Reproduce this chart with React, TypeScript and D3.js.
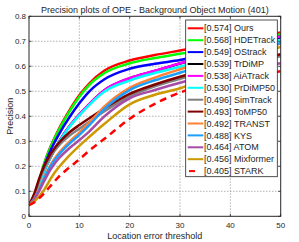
import React from 'react';
import * as d3 from 'd3';

// location error thresholds (px) where the curves are sampled
const thresholds = [0, 1, 2, 3, 4, 5, 6, 8, 10, 12, 15, 20, 25, 30, 40, 50];

const trackerNames = ['Ours', 'HDETrack', 'OStrack', 'TrDiMP', 'AiATrack', 'PrDiMP50', 'SimTrack', 'ToMP50', 'TRANST', 'KYS', 'ATOM', 'Mixformer', 'STARK'];
const trackerScores = [0.574, 0.568, 0.549, 0.539, 0.538, 0.530, 0.496, 0.493, 0.492, 0.488, 0.464, 0.456, 0.405];

const ours = [0.045, 0.08, 0.14, 0.21, 0.265, 0.31, 0.352, 0.423, 0.484, 0.532, 0.583, 0.623, 0.645, 0.663, 0.70, 0.735];
const hdetrack = [0.045, 0.08, 0.14, 0.21, 0.263, 0.308, 0.348, 0.418, 0.478, 0.526, 0.573, 0.612, 0.633, 0.65, 0.69, 0.728];
const ostrack = [0.045, 0.078, 0.135, 0.2, 0.25, 0.293, 0.33, 0.395, 0.452, 0.5, 0.548, 0.59, 0.61, 0.625, 0.67, 0.715];
const trdimp = [0.045, 0.075, 0.125, 0.18, 0.225, 0.265, 0.3, 0.359, 0.407, 0.449, 0.504, 0.552, 0.581, 0.611, 0.664, 0.719];
const aiatrack = [0.045, 0.075, 0.125, 0.18, 0.225, 0.265, 0.3, 0.36, 0.408, 0.45, 0.505, 0.553, 0.582, 0.612, 0.665, 0.72];
const prdimp50 = [0.045, 0.075, 0.125, 0.18, 0.224, 0.264, 0.298, 0.357, 0.404, 0.446, 0.499, 0.543, 0.573, 0.598, 0.652, 0.705];
const simtrack = [0.045, 0.082, 0.14, 0.19, 0.228, 0.26, 0.285, 0.322, 0.35, 0.378, 0.42, 0.48, 0.52, 0.55, 0.6, 0.64];
const tomp50 = [0.045, 0.088, 0.15, 0.2, 0.24, 0.27, 0.295, 0.335, 0.365, 0.392, 0.432, 0.49, 0.527, 0.558, 0.605, 0.648];
const transt = [0.045, 0.07, 0.11, 0.155, 0.195, 0.228, 0.255, 0.298, 0.335, 0.375, 0.44, 0.514, 0.555, 0.588, 0.645, 0.69];
const kys = [0.045, 0.068, 0.105, 0.15, 0.19, 0.222, 0.248, 0.29, 0.326, 0.365, 0.43, 0.505, 0.544, 0.574, 0.64, 0.693];
const atom = [0.045, 0.066, 0.1, 0.14, 0.178, 0.208, 0.233, 0.272, 0.305, 0.34, 0.4, 0.472, 0.505, 0.534, 0.578, 0.612];
const mixformer = [0.045, 0.058, 0.08, 0.105, 0.14, 0.172, 0.198, 0.243, 0.282, 0.318, 0.37, 0.448, 0.486, 0.512, 0.6, 0.678];
const stark = [0.045, 0.055, 0.072, 0.092, 0.115, 0.138, 0.16, 0.195, 0.228, 0.263, 0.31, 0.39, 0.45, 0.495, 0.545, 0.58];

const series = [ours, hdetrack, ostrack, trdimp, aiatrack, prdimp50, simtrack, tomp50, transt, kys, atom, mixformer, stark];

const xTicks = [0, 10, 20, 30, 40, 50];
const yTicks = [0, 0.1, 0.2, 0.3, 0.4, 0.5, 0.6, 0.7, 0.8];

const colors = ['#ff0000', '#00ff00', '#0000ff', '#000000', '#ff00ff', '#00ffff', '#808080', '#800000', '#ff8033', '#1a9fff', '#a64ca6', '#cc9900', '#ff0000'];
const dashed = [false, false, false, false, false, false, false, false, false, false, false, false, true];

const WIDTH = 299;
const HEIGHT = 242;
const margin = { top: 16.3, right: 18.3, bottom: 25.7, left: 29 };
const FONT = '"Liberation Sans", Arial, Helvetica, sans-serif';
const TEXT = '#262626';

const App: React.FC = () => {
  const innerRight = WIDTH - margin.right;
  const innerBottom = HEIGHT - margin.bottom;

  const x = d3.scaleLinear().domain([0, 50]).range([margin.left, innerRight]);
  const y = d3.scaleLinear().domain([0, 0.8]).range([innerBottom, margin.top]);

  const line = d3.line<number>()
    .x((_, i) => x(thresholds[i]))
    .y(d => y(d))
    .curve(d3.curveMonotoneX);

  // legend box
  const legend = { left: 185.7, top: 20, right: 277.3, bottom: 176.7, firstRow: 28.3, rowGap: 11.9 };

  return (
    <svg
      width={WIDTH}
      height={HEIGHT}
      style={{ position: 'fixed', left: 0, top: 0, background: '#fff' }}
      fontFamily={FONT}
    >
      <defs>
        <clipPath id="plot-clip">
          <rect x={margin.left} y={margin.top} width={innerRight - margin.left} height={innerBottom - margin.top} />
        </clipPath>
      </defs>

      {/* Title */}
      <text x={(margin.left + innerRight) / 2} y={13} textAnchor="middle" fontSize={9} fill={TEXT}>
        Precision plots of OPE - Background Object Motion (401)
      </text>

      {/* Grid */}
      <g stroke="#a0a0a0" strokeWidth={0.8} strokeDasharray="1.5,1.5">
        {xTicks.slice(1, -1).map(t => (
          <line key={'gx' + t} x1={x(t)} x2={x(t)} y1={margin.top} y2={innerBottom} />
        ))}
        {yTicks.slice(1, -1).map(t => (
          <line key={'gy' + t} x1={margin.left} x2={innerRight} y1={y(t)} y2={y(t)} />
        ))}
      </g>

      {/* Curves */}
      <g clipPath="url(#plot-clip)" fill="none">
        {series.map((s, i) => (
          <path
            key={trackerNames[i]}
            d={line(s) || ''}
            stroke={colors[i]}
            strokeWidth={2.5}
            strokeDasharray={dashed[i] ? '7,5' : undefined}
          />
        ))}
      </g>

      {/* Axes box */}
      <rect
        x={margin.left}
        y={margin.top}
        width={innerRight - margin.left}
        height={innerBottom - margin.top}
        fill="none"
        stroke={TEXT}
        strokeWidth={1}
      />

      {/* Tick marks (inside) */}
      <g stroke={TEXT} strokeWidth={0.8}>
        {xTicks.map(t => (
          <React.Fragment key={'tx' + t}>
            <line x1={x(t)} x2={x(t)} y1={innerBottom} y2={innerBottom - 2.5} />
            <line x1={x(t)} x2={x(t)} y1={margin.top} y2={margin.top + 2.5} />
          </React.Fragment>
        ))}
        {yTicks.map(t => (
          <React.Fragment key={'ty' + t}>
            <line x1={margin.left} x2={margin.left + 2.5} y1={y(t)} y2={y(t)} />
            <line x1={innerRight} x2={innerRight - 2.5} y1={y(t)} y2={y(t)} />
          </React.Fragment>
        ))}
      </g>

      {/* Tick labels */}
      <g fontSize={8} fill={TEXT}>
        {xTicks.map(t => (
          <text key={'lx' + t} x={x(t)} y={228} textAnchor="middle">{t}</text>
        ))}
        {yTicks.map(t => (
          <text key={'ly' + t} x={margin.left - 3} y={y(t)} dy="0.33em" textAnchor="end">{t}</text>
        ))}
      </g>

      {/* Axis labels */}
      <text x={(margin.left + innerRight) / 2} y={238.5} textAnchor="middle" fontSize={9} fill={TEXT}>
        Location error threshold
      </text>
      <text
        transform={`translate(12.5, ${(margin.top + innerBottom) / 2}) rotate(-90)`}
        textAnchor="middle"
        fontSize={9}
        fill={TEXT}
      >
        Precision
      </text>

      {/* Legend */}
      <rect
        x={legend.left}
        y={legend.top}
        width={legend.right - legend.left}
        height={legend.bottom - legend.top}
        fill="#fff"
        stroke={TEXT}
        strokeWidth={0.8}
      />
      {trackerNames.map((name, i) => {
        const ly = legend.firstRow + i * legend.rowGap;
        return (
          <g key={'lg' + name}>
            <line
              x1={dashed[i] ? legend.left + 3.3 : legend.left + 2}
              x2={dashed[i] ? legend.left + 9.3 : legend.left + 17.6}
              y1={ly}
              y2={ly}
              stroke={colors[i]}
              strokeWidth={2}
            />
            <text x={legend.left + 18.3} y={ly} dy="0.35em" fontSize={9} fill={TEXT}>
              [{trackerScores[i].toFixed(3)}] {name}
            </text>
          </g>
        );
      })}
    </svg>
  );
};

export default App;
